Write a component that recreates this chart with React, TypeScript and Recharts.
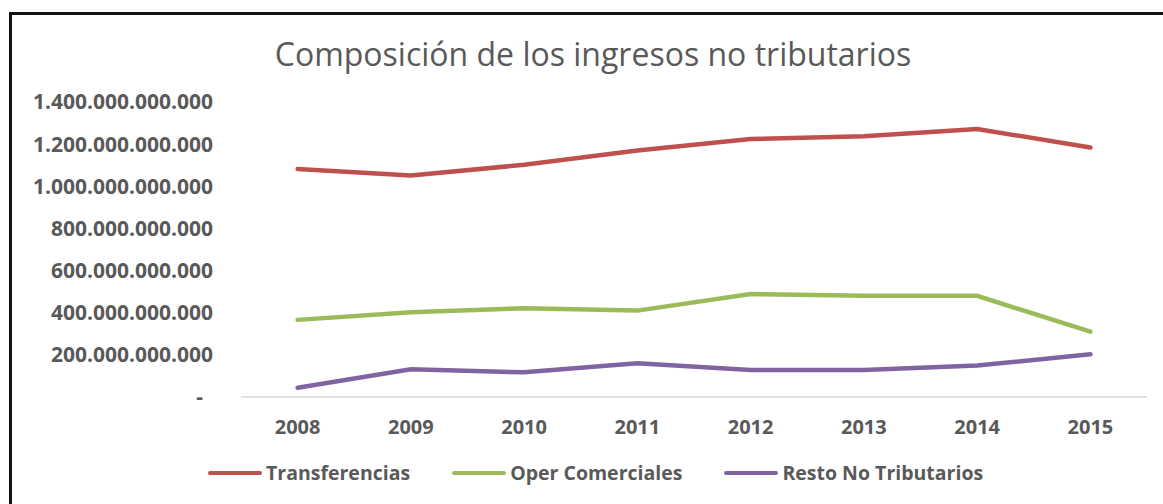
import React from 'react';
import { LineChart, Line, XAxis, YAxis } from 'recharts';

const years = ['2008', '2009', '2010', '2011', '2012', '2013', '2014', '2015'];
const transferencias = [1082e9, 1051e9, 1102e9, 1170e9, 1224e9, 1237e9, 1272e9, 1184e9];
const operComerciales = [366e9, 402e9, 421e9, 410e9, 489e9, 480e9, 480e9, 310e9];
const restoNoTributarios = [44e9, 132e9, 117e9, 160e9, 128e9, 128e9, 149e9, 203e9];
const yTicks = [0, 200e9, 400e9, 600e9, 800e9, 1000e9, 1200e9, 1400e9];

const series = [
  { key: 'transferencias', name: 'Transferencias', color: '#C0504D' },
  { key: 'oper', name: 'Oper Comerciales', color: '#9BBB59' },
  { key: 'resto', name: 'Resto No Tributarios', color: '#8064A2' },
];

const data = years.map((year, i) => ({
  year,
  transferencias: transferencias[i],
  oper: operComerciales[i],
  resto: restoNoTributarios[i],
}));

const textColor = '#595959';
const font = '"Open Sans", sans-serif';

function fmt(v: number) {
  return String(Math.round(v)).replace(/\B(?=(\d{3})+(?!\d))/g, '.');
}

function YTick(props: any) {
  const { x, y, payload } = props;
  const isZero = payload.value === 0;
  return (
    <text
      x={isZero ? x - 10 : x}
      y={y}
      dy="0.355em"
      textAnchor="end"
      fill={textColor}
      fontFamily={font}
      fontWeight={700}
      fontSize={21}
    >
      {isZero ? '-' : fmt(payload.value)}
    </text>
  );
}

export default function App() {
  return (
    <div
      style={{
        position: 'absolute',
        left: 0,
        top: 0,
        width: 1163,
        height: 504,
        background: '#fff',
        overflow: 'hidden',
      }}
    >
      <div
        style={{
          position: 'absolute',
          left: 9,
          top: 12,
          width: 1163,
          height: 504,
          borderLeft: '3px solid #111',
          borderTop: '3px solid #111',
        }}
      />
      <div
        style={{
          position: 'absolute',
          left: 0,
          top: 32,
          width: 1186,
          textAlign: 'center',
          fontFamily: font,
          fontSize: 32,
          color: textColor,
          lineHeight: '44px',
        }}
      >
        Composición de los ingresos no tributarios
      </div>
      <div style={{ position: 'absolute', left: 0, top: 0 }}>
        <LineChart
          width={1163}
          height={504}
          data={data}
          margin={{ top: 102, right: 16, bottom: 77, left: 13 }}
        >
          <XAxis
            dataKey="year"
            height={30}
            padding={{ left: 56.6, right: 56.6 }}
            axisLine={{ stroke: '#d9d9d9', strokeWidth: 1.5 }}
            tickLine={false}
            tickSize={0}
            tickMargin={23}
            tick={{ fill: textColor, fontFamily: font, fontWeight: 700, fontSize: 20 }}
          />
          <YAxis
            width={228}
            domain={[0, 1400e9]}
            ticks={yTicks}
            axisLine={false}
            tickLine={false}
            tickSize={0}
            tickMargin={28}
            tick={<YTick />}
            interval={0}
          />
          {series.map((s) => (
            <Line
              key={s.key}
              dataKey={s.key}
              name={s.name}
              stroke={s.color}
              strokeWidth={4.5}
              strokeLinecap="round"
              dot={false}
              isAnimationActive={false}
            />
          ))}
        </LineChart>
      </div>
      <div
        style={{
          position: 'absolute',
          left: 208,
          top: 460,
          display: 'flex',
          alignItems: 'center',
          gap: 42,
          fontFamily: font,
          fontWeight: 700,
          fontSize: 19.5,
          color: textColor,
        }}
      >
        {series.map((s) => (
          <div key={s.key} style={{ display: 'flex', alignItems: 'center' }}>
            <div
              style={{
                width: 54,
                height: 4.5,
                borderRadius: 2,
                background: s.color,
                marginRight: 4,
              }}
            />
            <span style={{ lineHeight: '26px' }}>{s.name}</span>
          </div>
        ))}
      </div>
    </div>
  );
}
